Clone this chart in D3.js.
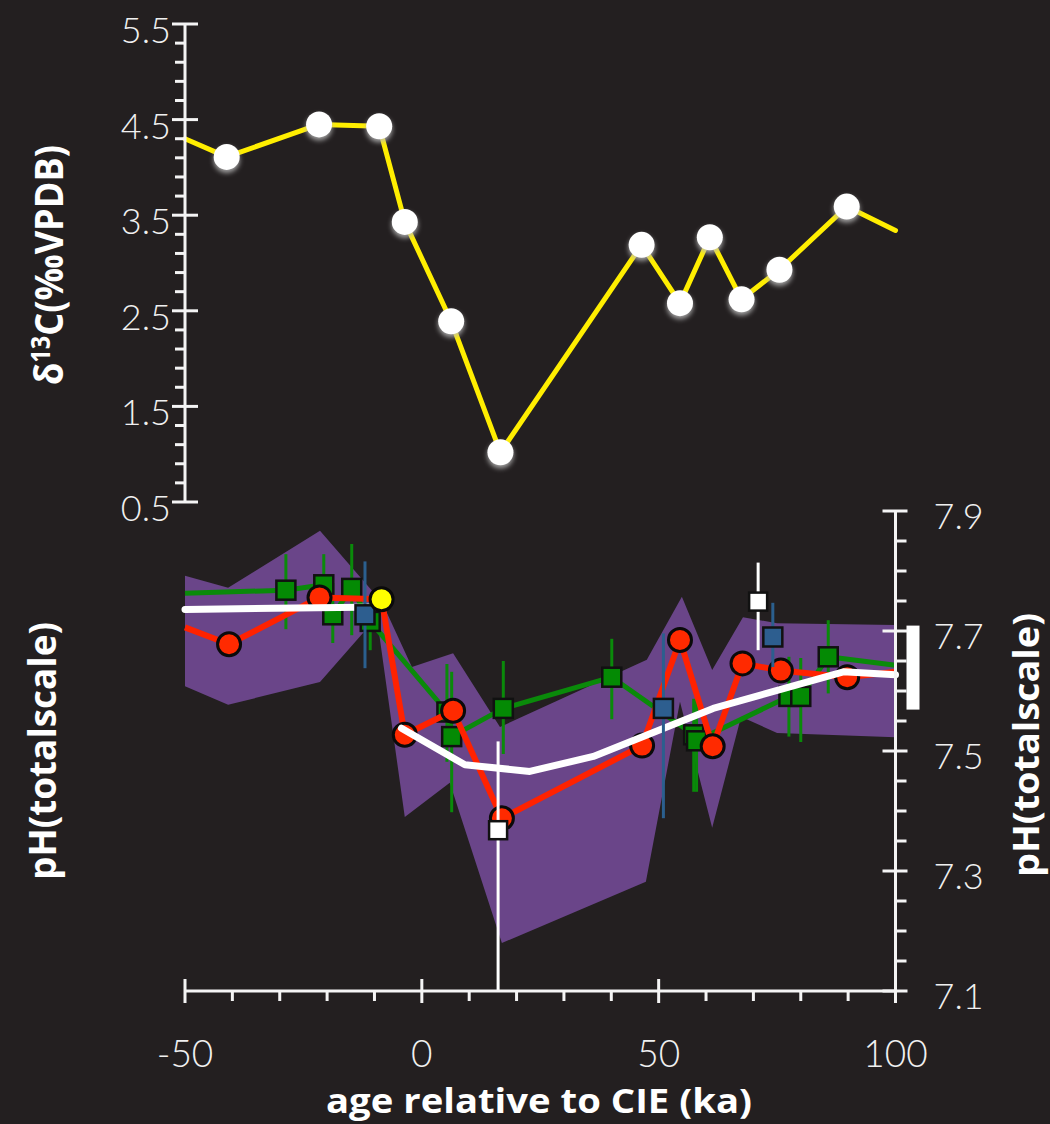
<!DOCTYPE html>
<html>
<head>
<meta charset="utf-8">
<script src="https://cdn.jsdelivr.net/npm/d3@7"></script>
<style>
  html, body { margin: 0; padding: 0; background: #231f20; }
  svg { display: block; }
</style>
</head>
<body>
<svg id="chart" width="1050" height="1124"></svg>
<script>
// ---- data ----
// top panel: d13C (yellow line, ends at the frame have no marker)
var d13cAge = [-50, -41.2, -21.7, -9.0, -3.6, 6.2, 16.6, 46.4, 54.5, 60.8, 67.5, 75.5, 89.7, 100];
var d13cVal = [4.30, 4.11, 4.45, 4.43, 3.43, 2.39, 1.02, 3.19, 2.58, 3.27, 2.62, 2.93, 3.59, 3.34];

// bottom panel: purple uncertainty envelope
var bandUpAge = [-50, -40.9, -21.5, -8.4, -2.1, 6.6, 16.5, 47.5, 54.9, 61.3, 67.8, 75.0, 100];
var bandUpPH  = [7.792, 7.772, 7.867, 7.748, 7.640, 7.663, 7.540, 7.652, 7.757, 7.635, 7.723, 7.713, 7.710];
var bandLoAge = [-50, -40.9, -21.5, -9.5, -3.6, 5.9, 16.9, 47.3, 54.5, 61.3, 67.4, 75.0, 100];
var bandLoPH  = [7.608, 7.577, 7.615, 7.723, 7.390, 7.447, 7.180, 7.282, 7.582, 7.372, 7.557, 7.530, 7.523];

// green series (line + squares + error bars); first and last are line ends only
var greenAge = [-50, -28.7, -20.7, -18.8, -14.8, -10.9, 5.3, 6.3, 17.2, 40.1, 57.4, 58.0, 77.5, 80.0, 85.8, 100];
var greenPH  = [7.763, 7.768, 7.777, 7.727, 7.771, 7.716, 7.565, 7.524, 7.571, 7.623, 7.527, 7.517, 7.591, 7.591, 7.657, 7.643];
var greenLo  = [null, 7.703, 7.710, 7.680, 7.693, 7.668, 7.482, 7.398, 7.495, 7.553, 7.432, 7.432, 7.524, 7.515, 7.596, null];
var greenHi  = [null, 7.828, 7.828, 7.780, 7.845, 7.747, 7.645, 7.632, 7.650, 7.687, 7.587, 7.587, 7.657, 7.655, 7.718, null];

// blue squares with error bars
var blueAge = [-12.0, 51.0, 74.1];
var bluePH  = [7.727, 7.571, 7.690];
var blueLo  = [7.638, 7.388, 7.640];
var blueHi  = [7.816, 7.696, 7.747];

// red series (line + circles); the -8.5 ka point is drawn yellow
var redAge = [-50, -40.7, -21.6, -8.5, -3.6, 6.6, 16.9, 46.5, 54.5, 61.4, 67.7, 75.8, 89.8, 100];
var redPH  = [7.706, 7.678, 7.756, 7.753, 7.527, 7.567, 7.388, 7.509, 7.685, 7.508, 7.646, 7.634, 7.623, 7.632];
var yellowIdx = 3;

// white model curve, two pieces
var white1Age = [-50, -8.8];
var white1PH  = [7.736, 7.740];
var white2Age = [-4.3, 9.1, 22.8, 36.2, 61.5, 89.0, 100];
var white2PH  = [7.538, 7.477, 7.466, 7.491, 7.571, 7.632, 7.627];

// white squares with error bars
var whiteSqAge = [16.1, 71.0];
var whiteSqPH  = [7.368, 7.749];
var whiteSqLo  = [7.1, 7.668];
var whiteSqHi  = [7.516, 7.814];

// modern range bar at the right edge
var modernPH = [7.569, 7.709];

// ticks
var d13cTicks = [0.5, 1.5, 2.5, 3.5, 4.5, 5.5];
var phTicks = [7.1, 7.3, 7.5, 7.7, 7.9];
var ageTicks = [-50, 0, 50, 100];

// ---- drawing ----
var svg = d3.select("#chart");
var tickFont = "Lato, 'Open Sans', sans-serif";
var titleFont = "'Open Sans', 'Noto Sans', sans-serif";

const x = d3.scaleLinear().domain([-50, 100]).range([185, 895.5]);
const yTop = d3.scaleLinear().domain([0.5, 5.5]).range([502, 24]);
const yPH = d3.scaleLinear().domain([7.1, 7.9]).range([991, 511]);

var defs = svg.append("defs");
var glow = defs.append("filter").attr("id", "glow")
  .attr("x", "-50%").attr("y", "-50%").attr("width", "200%").attr("height", "220%");
glow.append("feDropShadow").attr("dx", 0).attr("dy", 3).attr("stdDeviation", 2.5)
  .attr("flood-color", "#bbbbbb").attr("flood-opacity", 0.85);

function zip(a, b) { return a.map(function(d, i) { return [d, b[i]]; }); }

// ---- top panel ----
const topLine = d3.line().x(d => x(d[0])).y(d => yTop(d[1]));
var topPts = zip(d13cAge, d13cVal);

svg.append("path")
  .attr("d", topLine(topPts))
  .attr("fill", "none")
  .attr("stroke", "#ffee00")
  .attr("stroke-width", 5)
  .attr("stroke-linejoin", "round")
  .attr("stroke-linecap", "round");

svg.append("g").selectAll("circle")
  .data(topPts.slice(1, -1))
  .join("circle")
  .attr("cx", d => x(d[0]))
  .attr("cy", d => yTop(d[1]))
  .attr("r", 13)
  .attr("fill", "#ffffff")
  .attr("filter", "url(#glow)");

// ---- bottom panel ----
const phLine = d3.line().x(d => x(d[0])).y(d => yPH(d[1]));

var bandPts = zip(bandUpAge, bandUpPH).concat(zip(bandLoAge, bandLoPH).reverse());
svg.append("path")
  .attr("d", phLine(bandPts) + "Z")
  .attr("fill", "#6a4589");

function errorBars(ages, lo, hi, color, w) {
  var rows = ages.map(function(a, i) { return {a: a, lo: lo[i], hi: hi[i]}; })
    .filter(function(d) { return d.lo != null; });
  svg.append("g").selectAll("line")
    .data(rows)
    .join("line")
    .attr("x1", d => x(d.a)).attr("x2", d => x(d.a))
    .attr("y1", d => yPH(d.lo)).attr("y2", d => yPH(d.hi))
    .attr("stroke", color)
    .attr("stroke-width", w);
}

function squares(pts, fill, size) {
  svg.append("g").selectAll("rect")
    .data(pts)
    .join("rect")
    .attr("x", d => x(d[0]) - size / 2)
    .attr("y", d => yPH(d[1]) - size / 2)
    .attr("width", size)
    .attr("height", size)
    .attr("fill", fill)
    .attr("stroke", "#111")
    .attr("stroke-width", 2.5);
}

// green
errorBars(greenAge, greenLo, greenHi, "#0a8a0a", 3);
var greenPts = zip(greenAge, greenPH);
svg.append("path")
  .attr("d", phLine(greenPts))
  .attr("fill", "none")
  .attr("stroke", "#0a8a0a")
  .attr("stroke-width", 5)
  .attr("stroke-linejoin", "round");
squares(greenPts.slice(1, -1), "#048a04", 19);

// red
var redPts = zip(redAge, redPH);
svg.append("path")
  .attr("d", phLine(redPts))
  .attr("fill", "none")
  .attr("stroke", "#ff2200")
  .attr("stroke-width", 6)
  .attr("stroke-linejoin", "round");
svg.append("g").selectAll("circle")
  .data(redPts.filter((d, i) => i > 0 && i < redPts.length - 1 && i != yellowIdx))
  .join("circle")
  .attr("cx", d => x(d[0]))
  .attr("cy", d => yPH(d[1]))
  .attr("r", 11.5)
  .attr("fill", "#ff2a00")
  .attr("stroke", "#0a0a0a")
  .attr("stroke-width", 3);

// white model curve
[zip(white1Age, white1PH), zip(white2Age, white2PH)].forEach(function(pts) {
  svg.append("path")
    .attr("d", phLine(pts))
    .attr("fill", "none")
    .attr("stroke", "#ffffff")
    .attr("stroke-width", 7)
    .attr("stroke-linejoin", "round")
    .attr("stroke-linecap", "round");
});

// blue
errorBars(blueAge, blueLo, blueHi, "#2b5f8e", 3);
squares(zip(blueAge, bluePH), "#2d5e8f", 19);

// white squares
errorBars(whiteSqAge, whiteSqLo, whiteSqHi, "#ffffff", 3);
squares(zip(whiteSqAge, whiteSqPH), "#ffffff", 18);

// yellow point of the red series
svg.append("circle")
  .attr("cx", x(redAge[yellowIdx]))
  .attr("cy", yPH(redPH[yellowIdx]))
  .attr("r", 11.5)
  .attr("fill", "#ffff00")
  .attr("stroke", "#0a0a0a")
  .attr("stroke-width", 3);

// modern bar
svg.append("rect")
  .attr("x", x(100) + 11)
  .attr("y", yPH(modernPH[1]))
  .attr("width", 13)
  .attr("height", yPH(modernPH[0]) - yPH(modernPH[1]))
  .attr("fill", "#ffffff");

// ---- axes ----
var axisColor = "#f4f4f4";
var labelColor = "#f0f0f0";

function isMajor(v, majors) {
  return majors.some(function(m) { return Math.abs(m - v) < 1e-6; });
}

// left d13C axis
var ax1 = svg.append("g");
ax1.append("line")
  .attr("x1", x(-50)).attr("x2", x(-50))
  .attr("y1", yTop(0.5)).attr("y2", yTop(5.5))
  .attr("stroke", axisColor).attr("stroke-width", 3);
ax1.selectAll("line.minor")
  .data(d3.range(0.5, 5.51, 0.2).filter(v => !isMajor(v, d13cTicks)))
  .join("line").attr("class", "minor")
  .attr("x1", x(-50) - 10).attr("x2", x(-50))
  .attr("y1", d => yTop(d)).attr("y2", d => yTop(d))
  .attr("stroke", axisColor).attr("stroke-width", 3);
ax1.selectAll("line.major")
  .data(d13cTicks)
  .join("line").attr("class", "major")
  .attr("x1", x(-50) - 13).attr("x2", x(-50) + 13)
  .attr("y1", d => yTop(d)).attr("y2", d => yTop(d))
  .attr("stroke", axisColor).attr("stroke-width", 3);
ax1.selectAll("text")
  .data(d13cTicks)
  .join("text")
  .attr("x", x(-50) - 14)
  .attr("y", d => yTop(d) + 5)
  .attr("text-anchor", "end")
  .attr("dominant-baseline", "central")
  .attr("font-family", tickFont)
  .attr("font-weight", 300)
  .attr("font-size", 36)
  .attr("fill", labelColor)
  .text(d => d3.format(".1f")(d));

// right pH axis
var ax2 = svg.append("g");
ax2.append("line")
  .attr("x1", x(100)).attr("x2", x(100))
  .attr("y1", yPH(7.1)).attr("y2", yPH(7.9))
  .attr("stroke", axisColor).attr("stroke-width", 3);
ax2.selectAll("line.minor")
  .data(d3.range(7.1, 7.901, 0.05).filter(v => !isMajor(v, phTicks)))
  .join("line").attr("class", "minor")
  .attr("x1", x(100)).attr("x2", x(100) + 11)
  .attr("y1", d => yPH(d)).attr("y2", d => yPH(d))
  .attr("stroke", axisColor).attr("stroke-width", 3);
ax2.selectAll("line.major")
  .data(phTicks)
  .join("line").attr("class", "major")
  .attr("x1", x(100) - 13).attr("x2", x(100) + 12)
  .attr("y1", d => yPH(d)).attr("y2", d => yPH(d))
  .attr("stroke", axisColor).attr("stroke-width", 3);
ax2.selectAll("text")
  .data(phTicks)
  .join("text")
  .attr("x", x(100) + 38)
  .attr("y", d => yPH(d) + 4)
  .attr("text-anchor", "start")
  .attr("dominant-baseline", "central")
  .attr("font-family", tickFont)
  .attr("font-weight", 300)
  .attr("font-size", 36)
  .attr("fill", labelColor)
  .text(d => d3.format(".1f")(d));

// bottom age axis
var ax3 = svg.append("g");
ax3.append("line")
  .attr("x1", x(-50)).attr("x2", x(100))
  .attr("y1", yPH(7.1)).attr("y2", yPH(7.1))
  .attr("stroke", axisColor).attr("stroke-width", 3);
ax3.selectAll("line.minor")
  .data(d3.range(-50, 100.1, 10).filter(v => !isMajor(v, ageTicks)))
  .join("line").attr("class", "minor")
  .attr("x1", d => x(d)).attr("x2", d => x(d))
  .attr("y1", yPH(7.1)).attr("y2", yPH(7.1) + 10)
  .attr("stroke", axisColor).attr("stroke-width", 3);
ax3.selectAll("line.major")
  .data(ageTicks)
  .join("line").attr("class", "major")
  .attr("x1", d => x(d)).attr("x2", d => x(d))
  .attr("y1", yPH(7.1) - 12).attr("y2", yPH(7.1) + 12)
  .attr("stroke", axisColor).attr("stroke-width", 3);
ax3.selectAll("text")
  .data(ageTicks)
  .join("text")
  .attr("x", d => x(d))
  .attr("y", yPH(7.1) + 61)
  .attr("text-anchor", "middle")
  .attr("dominant-baseline", "central")
  .attr("font-family", tickFont)
  .attr("font-weight", 300)
  .attr("font-size", 37)
  .attr("fill", labelColor)
  .text(d => d);

// ---- titles ----
svg.append("text")
  .attr("x", 539)
  .attr("y", 1113)
  .attr("text-anchor", "middle")
  .attr("font-family", titleFont)
  .attr("font-weight", 700)
  .attr("font-size", 34)
  .attr("textLength", 426)
  .attr("lengthAdjust", "spacingAndGlyphs")
  .attr("fill", "#ffffff")
  .text("age relative to CIE (ka)");

var t1 = svg.append("text")
  .attr("transform", "translate(63,265) rotate(-90)")
  .attr("text-anchor", "middle")
  .attr("font-family", titleFont)
  .attr("font-weight", 700)
  .attr("font-size", 40)
  .attr("textLength", 240)
  .attr("lengthAdjust", "spacingAndGlyphs")
  .attr("fill", "#ffffff");
t1.append("tspan").text("δ");
t1.append("tspan").attr("font-size", 26).attr("dy", -13).text("13");
t1.append("tspan").attr("dy", 13).text("C(‰VPDB)");

svg.append("text")
  .attr("transform", "translate(56,751) rotate(-90)")
  .attr("text-anchor", "middle")
  .attr("font-family", titleFont)
  .attr("font-weight", 700)
  .attr("font-size", 38)
  .attr("textLength", 258)
  .attr("lengthAdjust", "spacingAndGlyphs")
  .attr("fill", "#ffffff")
  .text("pH(totalscale)");

svg.append("text")
  .attr("transform", "translate(1039,745) rotate(-90)")
  .attr("text-anchor", "middle")
  .attr("font-family", titleFont)
  .attr("font-weight", 700)
  .attr("font-size", 36)
  .attr("textLength", 264)
  .attr("lengthAdjust", "spacingAndGlyphs")
  .attr("fill", "#ffffff")
  .text("pH(totalscale)");
</script>
</body>
</html>
